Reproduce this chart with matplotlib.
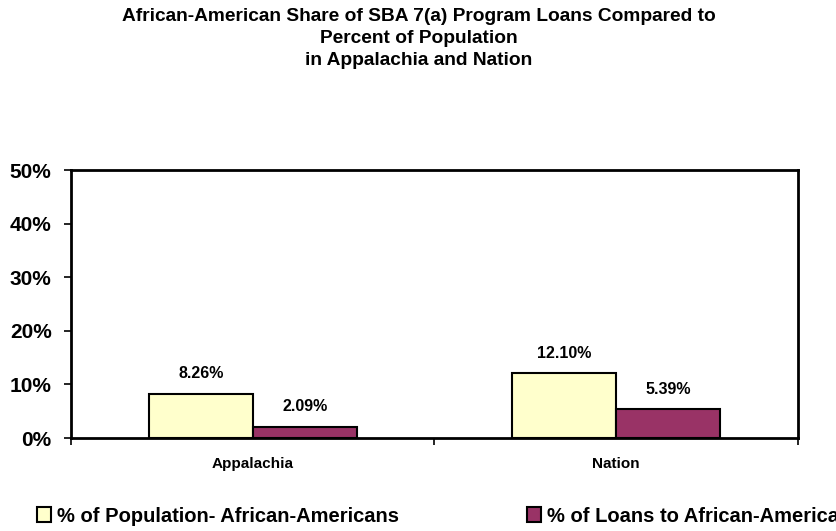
import matplotlib.pyplot as plt
import numpy as np
from matplotlib.ticker import FixedLocator, PercentFormatter

plt.rcParams['font.family'] = ['Liberation Sans', 'DejaVu Sans']

regions = ["Appalachia", "Nation"]
series_names = ["% of Population- African-Americans", "% of Loans to African-Americans"]
population_pct = [8.26, 12.10]
loans_pct = [2.09, 5.39]
colors = ["#FFFFCC", "#993366"]

fig = plt.figure(figsize=(8.37, 5.31), dpi=100)
ax = fig.add_axes([0.0848, 0.1751, 0.8686, 0.5047])

x = np.arange(len(regions))
width = 0.286
bars = []
for i, (vals, name, col) in enumerate(zip([population_pct, loans_pct], series_names, colors)):
    offs = (i - 0.5) * width
    b = ax.bar(x + offs, vals, width, color=col, edgecolor="black", linewidth=1.5, label=name)
    bars.append(b)
    for xi, v in zip(x + offs, vals):
        ax.annotate(f"{v:.2f}%", (xi, v), xytext=(0, 9), textcoords="offset points",
                    ha="center", va="bottom", fontsize=11.5, fontweight="bold")

ax.set_xlim(-0.5, len(regions) - 0.5)
ax.set_ylim(0, 50)
ax.yaxis.set_major_locator(FixedLocator([0, 10, 20, 30, 40, 50]))
ax.yaxis.set_major_formatter(PercentFormatter(decimals=0))
ax.tick_params(axis="y", direction="out", length=5, width=1.2, labelsize=15, pad=9)
for lbl in ax.get_yticklabels():
    lbl.set_fontweight("bold")

ax.set_xticks([-0.5, 0.5, 1.5])
ax.set_xticklabels([])
ax.set_xticks(x, minor=True)
ax.set_xticklabels(regions, minor=True, fontsize=11, fontweight="bold")
ax.tick_params(axis="x", which="major", direction="out", length=5, width=1.2)
ax.tick_params(axis="x", which="minor", length=0, pad=14)

for s in ax.spines.values():
    s.set_linewidth(2)

fig.suptitle("African-American Share of SBA 7(a) Program Loans Compared to\nPercent of Population\nin Appalachia and Nation",
             x=0.5, y=0.985, fontsize=13.8, fontweight="bold", linespacing=1.38)

# one legend entry per series, placed where the reference puts them
for b, name, xpos in zip(bars, series_names, [0.0442, 0.6296]):
    fig.legend(handles=[b], labels=[name], loc="center left",
               bbox_to_anchor=(xpos, 0.0282), frameon=False,
               prop={"weight": "bold", "size": 14.5},
               borderpad=0, borderaxespad=0,
               handlelength=0.7, handleheight=0.7, handletextpad=0.3)

fig.savefig("out.png", dpi=100)
